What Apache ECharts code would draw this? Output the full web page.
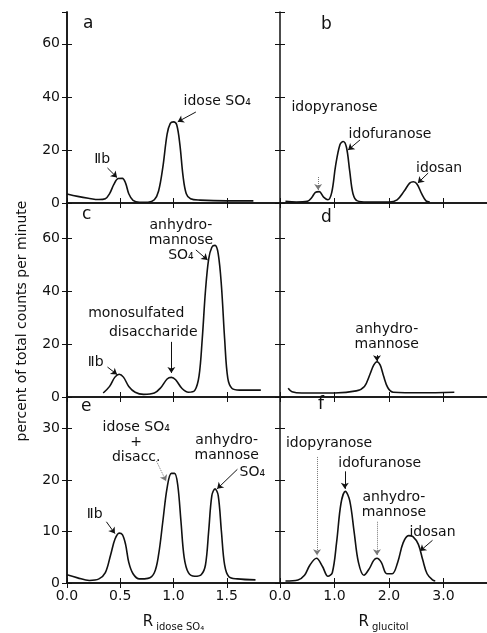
<!DOCTYPE html>
<html>
<head>
<meta charset="utf-8">
<script src="https://cdn.jsdelivr.net/npm/echarts@6/dist/echarts.min.js"></script>
<style>
  html, body { margin: 0; padding: 0; background: #fff; }
  #chart { width: 487px; height: 633px; }
</style>
</head>
<body>
<div id="chart"></div>
<script>
// curves: x = R value, y = percent of total counts per minute
const aX = [0.0, 0.1, 0.2, 0.3, 0.36, 0.4, 0.44, 0.48, 0.52, 0.55, 0.58, 0.62, 0.68, 0.76, 0.82, 0.86, 0.9, 0.94, 0.97, 1.0, 1.03, 1.06, 1.09, 1.12, 1.16, 1.25, 1.5, 1.75]
const aY = [3.4, 2.5, 1.8, 1.3, 1.6, 3.5, 7.0, 9.2, 9.3, 7.5, 3.5, 1.0, 0.3, 0.3, 1.2, 4.5, 13.5, 26, 30, 30.6, 29.5, 22, 10, 3.5, 1.6, 1.1, 0.8, 0.8]

const bX = [0.1, 0.3, 0.5, 0.58, 0.65, 0.72, 0.8, 0.88, 0.95, 1.02, 1.1, 1.16, 1.22, 1.28, 1.34, 1.42, 1.6, 2.0, 2.15, 2.28, 2.38, 2.45, 2.52, 2.6, 2.68, 2.75]
const bY = [0.6, 0.4, 0.6, 2, 4, 4.3, 2.2, 1.2, 4, 14, 22, 23.2, 21, 12, 3.5, 0.8, 0.4, 0.4, 1.2, 4.5, 7.5, 8.0, 7.0, 3.5, 0.8, 0.4]

const cX = [0.34, 0.4, 0.45, 0.49, 0.53, 0.58, 0.64, 0.72, 0.82, 0.88, 0.94, 0.98, 1.02, 1.08, 1.14, 1.2, 1.24, 1.27, 1.3, 1.33, 1.36, 1.39, 1.42, 1.45, 1.48, 1.51, 1.55, 1.62, 1.82]
const cY = [1.5, 4, 7.5, 8.6, 7.5, 4, 1.8, 1.0, 1.5, 3.5, 6.8, 7.4, 6.5, 3.2, 1.8, 2.5, 8, 22, 40, 52, 56.5, 57.2, 54, 42, 22, 7, 3.2, 2.6, 2.6]

const dX = [0.15, 0.22, 0.4, 1.0, 1.4, 1.55, 1.65, 1.72, 1.78, 1.84, 1.9, 1.98, 2.08, 2.6, 3.2]
const dY = [3.3, 2.0, 1.5, 1.5, 2.3, 4, 8.5, 12, 13.3, 12, 8, 3.5, 1.8, 1.6, 1.8]

const eX = [0.0, 0.1, 0.21, 0.3, 0.36, 0.41, 0.45, 0.49, 0.52, 0.55, 0.58, 0.62, 0.68, 0.76, 0.82, 0.86, 0.9, 0.94, 0.98, 1.01, 1.04, 1.07, 1.1, 1.14, 1.2, 1.26, 1.3, 1.33, 1.36, 1.39, 1.42, 1.45, 1.48, 1.52, 1.6, 1.77]
const eY = [1.6, 1.0, 0.5, 0.8, 2.0, 5.5, 8.5, 9.7, 9.4, 7.5, 4, 1.8, 0.8, 0.9, 2.0, 5.5, 12, 18.5, 21.3, 21.3, 19, 12, 5, 2.0, 1.3, 1.6, 3.5, 10, 17, 18.3, 17, 10, 3.5, 1.2, 0.8, 0.6]

const fX = [0.1, 0.33, 0.45, 0.55, 0.67, 0.78, 0.88, 0.96, 1.04, 1.12, 1.2, 1.28, 1.36, 1.44, 1.54, 1.64, 1.72, 1.78, 1.86, 1.96, 2.06, 2.16, 2.26, 2.36, 2.44, 2.54, 2.62, 2.7, 2.8, 2.85]
const fY = [0.4, 0.6, 1.5, 3.5, 4.8, 3.2, 1.3, 2.0, 8, 15.5, 17.8, 16, 10, 4, 1.5, 2.8, 4.4, 4.8, 4, 1.8, 1.8, 4, 7.8, 9.2, 9.0, 7.5, 4.5, 1.8, 0.6, 0.4]

// axis extents and tick steps
const yMax = [72, 73.2, 36.15]
const yStep = [20, 20, 10]
const xMax = [2.0, 3.8]
const xStep = [0.5, 1.0]
const panelLetters = ['a', 'b', 'c', 'd', 'e', 'f']
const xNames = ['{R|R}{s|idose SO₄}', '{R|R}{s|glucitol}']
const yName = 'percent of total counts per minute'

// peak labels and pointer lines, in data units of each panel
const notes = [
  [{t: 'Ⅱb', at: [0.33, 16.6]}, {t: 'idose SO₄', at: [1.41, 38.5]}],
  [{t: 'idopyranose', at: [1.0, 36.2]}, {t: 'idofuranose', at: [2.02, 25.7]}, {t: 'idosan', at: [2.92, 13.2]}],
  [{t: 'anhydro-\nmannose\nSO₄', at: [1.07, 59.2]}, {t: 'monosulfated', at: [0.65, 31.7]}, {t: 'disaccharide', at: [0.81, 24.5]}, {t: 'Ⅱb', at: [0.27, 13.2]}],
  [{t: 'anhydro-\nmannose', at: [1.96, 22.6]}],
  [{t: 'idose SO₄\n+\ndisacc.', at: [0.65, 27.3]}, {t: 'anhydro-\nmannose', at: [1.5, 26.3]}, {t: 'SO₄', at: [1.74, 21.5]}, {t: 'Ⅱb', at: [0.26, 13.3]}],
  [{t: 'idopyranose', at: [0.9, 27.1]}, {t: 'idofuranose', at: [1.83, 23.3]}, {t: 'anhydro-\nmannose', at: [2.09, 15.2]}, {t: 'idosan', at: [2.8, 9.8]}]
]
const pointers = [
  [{from: [0.38, 13.2], to: [0.47, 9.6]}, {from: [1.21, 34.3], to: [1.04, 30.6]}],
  [{from: [0.7, 9.8], to: [0.7, 4.9], dot: true}, {from: [1.47, 23.8], to: [1.25, 20]}, {from: [2.72, 11.3], to: [2.53, 7.5]}],
  [{from: [1.21, 55.5], to: [1.32, 51.7]}, {from: [0.98, 20.8], to: [0.98, 9.1]}, {from: [0.38, 11.3], to: [0.47, 8.5]}],
  [{from: [1.78, 15.8], to: [1.78, 13.5]}],
  [{from: [0.84, 23.7], to: [0.93, 19.8], dot: true}, {from: [1.6, 22.1], to: [1.41, 18.3]}, {from: [0.37, 11.9], to: [0.45, 9.6]}],
  [{from: [0.68, 24.5], to: [0.68, 5.4], dot: true}, {from: [1.19, 21.7], to: [1.19, 18.3]}, {from: [1.78, 11.9], to: [1.78, 5.4], dot: true}, {from: [2.8, 8.3], to: [2.57, 6.2]}]
]

const curves = [[aX, aY], [bX, bY], [cX, cY], [dX, dY], [eX, eY], [fX, fY]]

const FONT = 'DejaVu Sans'
const INK = '#111'
const rowTop = [12, 203, 397]
const rowHeight = [191, 194, 188]
const colLeft = [67, 280]
const colWidth = [213, 207]
const letterPos = [[83, 15], [321, 16], [82, 206], [321, 209], [81, 398], [318, 396]]

let grids = [], xAxes = [], yAxes = [], series = [], titles = []
for (let i = 0; i < 6; i++) {
  let r = Math.floor(i / 2), c = i % 2
  grids.push({left: colLeft[c], top: rowTop[r], width: colWidth[c], height: rowHeight[r]})
  let tick = {show: true, inside: true, length: 5, lineStyle: {color: INK, width: 1}}
  let line = {show: true, lineStyle: {color: INK, width: 1.5}}
  xAxes.push({
    type: 'value', gridIndex: i, min: 0, max: xMax[c], interval: xStep[c], position: 'bottom',
    axisLine: line, axisTick: tick, splitLine: {show: false},
    axisLabel: {show: r === 2, showMaxLabel: false, margin: 6, color: INK, fontFamily: FONT, fontSize: 14,
      formatter: v => v.toFixed(1)},
    name: r === 2 ? xNames[c] : '', nameLocation: 'middle', nameGap: 30,
    nameTextStyle: {
      color: INK, fontFamily: FONT,
      rich: {
        R: {fontSize: 15, fontFamily: FONT, color: INK},
        s: {fontSize: 10, fontFamily: FONT, color: INK, padding: [9, 0, 0, 3]}
      }
    }
  })
  xAxes.push({
    type: 'value', gridIndex: i, min: 0, max: xMax[c], interval: xStep[c], position: 'top',
    axisLine: line, axisTick: tick, axisLabel: {show: false}, splitLine: {show: false}
  })
  yAxes.push({
    type: 'value', gridIndex: i, min: 0, max: yMax[r], interval: yStep[r], position: 'left',
    axisLine: line, axisTick: tick, splitLine: {show: false},
    axisLabel: {show: c === 0, showMaxLabel: false, margin: 7, color: INK, fontFamily: FONT, fontSize: 14}
  })
  yAxes.push({
    type: 'value', gridIndex: i, min: 0, max: yMax[r], interval: yStep[r], position: 'right',
    axisLine: {show: c === 0, lineStyle: {color: INK, width: 1.5}}, axisTick: tick,
    axisLabel: {show: false}, splitLine: {show: false}
  })

  let xs = curves[i][0], ys = curves[i][1]
  series.push({
    type: 'line', xAxisIndex: 2 * i, yAxisIndex: 2 * i,
    data: xs.map((x, k) => [x, ys[k]]),
    showSymbol: false, smooth: 0.35, silent: true,
    lineStyle: {color: INK, width: 1.6}
  })

  series.push({
    type: 'scatter', xAxisIndex: 2 * i, yAxisIndex: 2 * i, symbolSize: 0, silent: true,
    itemStyle: {opacity: 1, color: INK},
    data: notes[i].map(n => ({value: n.at, name: n.t})),
    label: {show: true, position: 'inside', formatter: p => p.name, color: INK, opacity: 1,
      fontFamily: FONT, fontSize: 14, lineHeight: 15},
    markLine: {
      silent: true, symbol: ['none', 'arrow'], symbolSize: 6,
      label: {show: false},
      lineStyle: {color: INK, width: 1, type: 'solid', opacity: 1},
      data: pointers[i].map(p => [
        {coord: p.from, lineStyle: {type: p.dot ? 'dotted' : 'solid', color: p.dot ? '#777' : INK}},
        {coord: p.to}
      ])
    }
  })

  titles.push({text: panelLetters[i], left: letterPos[i][0], top: letterPos[i][1], padding: 0,
    textStyle: {fontFamily: FONT, fontSize: 17, fontWeight: 'normal', color: INK}})
}

let chart = echarts.init(document.getElementById('chart'))
chart.setOption({
  animation: false,
  backgroundColor: '#fff',
  title: titles,
  grid: grids,
  xAxis: xAxes,
  yAxis: yAxes,
  series: series,
  graphic: [{
    type: 'text', x: 22, y: 321, rotation: Math.PI / 2,
    style: {text: yName, fontFamily: FONT, fontSize: 14, fill: INK, align: 'center', verticalAlign: 'middle'}
  }]
})
</script>
</body>
</html>
